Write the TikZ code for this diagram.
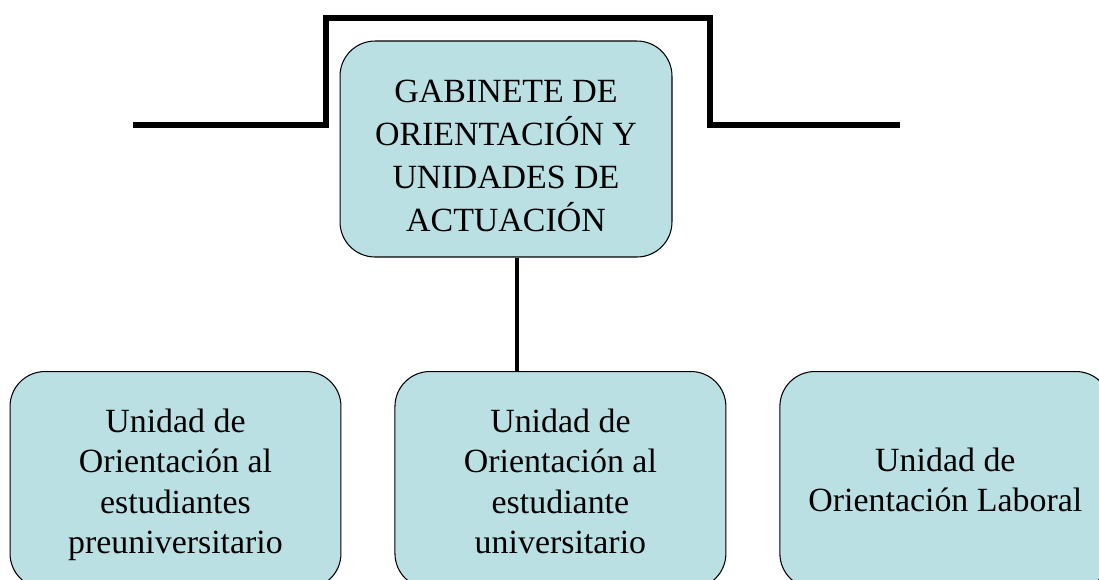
\documentclass[tikz,border=0pt]{standalone}
\usepackage{fontspec}
\setmainfont{Liberation Serif}
\usepackage{tikz}
\usetikzlibrary{positioning}

\definecolor{boxfill}{HTML}{BBE0E3}
\newcommand{\padtop}[1]{\rule{0pt}{#1}}

\begin{document}
\begin{tikzpicture}[x=0.02cm, y=-0.02cm, node distance=7.7cm, on grid,
		unitbox/.style={draw=black, line width=0.6pt, fill=boxfill, rounded corners=0.7cm,
			minimum width=6.62cm, minimum height=4.34cm, align=center, inner sep=0pt,
			font=\fontsize{19.3}{23}\selectfont},
		bracket/.style={line width=3.1pt},
		link/.style={line width=2.6pt}]
		\useasboundingbox (0,0) rectangle (1099,579);
		\node[unitbox, minimum width=6.64cm, minimum height=4.32cm,
			font=\fontsize{19.3}{24.5}\selectfont](g_0) at (506,149)
			{\padtop{20.5pt}GABINETE DE\\ORIENTACIÓN Y\\UNIDADES DE\\ACTUACIÓN};
		\node[unitbox](u_1) at (175.5,480){\padtop{19pt}Unidad de\\Orientación al\\estudiantes\\preuniversitario};
		\node[unitbox](u_2)[right of=u_1]{\padtop{15pt}Unidad de\\Orientación al\\estudiante\\universitario};
		\node[unitbox](u_3)[right of=u_2]{Unidad de\\Orientación Laboral};

		\coordinate (b_l) at (133,125);
		\coordinate (b_r) at (900,125);
		\coordinate (j_0) at (517,0);

		\draw[bracket] (b_l) -- (326,125) -- (326,18) -- (710,18) -- (710,125) -- (b_r);
		\draw[link] (g_0.south -| j_0) -- (u_2.north -| j_0);
	\end{tikzpicture}
\end{document}
